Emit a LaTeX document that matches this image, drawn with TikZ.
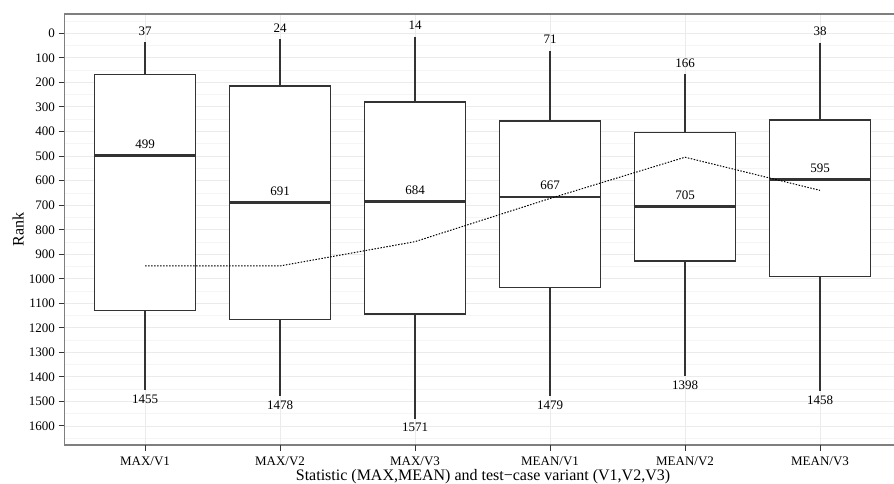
\documentclass[tikz,border=0pt]{standalone}
\usepackage{fontspec}
\setmainfont{Liberation Serif}
\definecolor{gridmaj}{HTML}{EBEBEB}
\definecolor{gridmin}{HTML}{F5F5F5}
\definecolor{boxline}{HTML}{333333}
\definecolor{panelborder}{HTML}{7F7F7F}
\tikzset{
  gmaj/.style={draw=gridmaj, line width=0.9pt},
  gmin/.style={draw=gridmin, line width=0.6pt},
  boxst/.style={draw=boxline, fill=white, line width=1.2pt},
  whisk/.style={draw=boxline, line width=1.2pt},
  medst/.style={draw=boxline, line width=2.8pt},
  ticklab/.style={font=\fontsize{13}{13}\selectfont, inner sep=0pt, text=black},
  vallab/.style={font=\fontsize{13}{13}\selectfont, inner sep=0pt, anchor=base},
  axtitle/.style={font=\fontsize{16}{16}\selectfont, inner sep=0pt, anchor=base},
  meanline/.style={draw=black, line width=1pt, dash pattern=on 1.5pt off 1.5pt},
}
\begin{document}
\begin{tikzpicture}[x=1pt,y=-1pt]
\useasboundingbox (0,0) rectangle (894,484);
\fill[white] (0,0) rectangle (894,484);
% data scope
\begin{scope}[x=1pt, y=-0.2454pt, shift={(0pt,-33.3pt)}]
  % minor grid
  \foreach \v in {-50,50,150,...,1650} \draw[gmin] (64.5,\v) -- (901,\v);
  % major grid
  \foreach \v in {0,100,...,1600} \draw[gmaj] (64.5,\v) -- (901,\v);
  \foreach \x in {145,280,415,550,685,820} \draw[gmaj] (\x,-78.6) -- (\x,1677.9);
  % boxes
  \foreach \i/\x/\lo/\qa/\me/\qc/\hi in {
      1/145/37/169/499/1128/1455,
      2/280/24/215/691/1166/1478,
      3/415/14/280/684/1144/1571,
      4/550/71/357/667/1037/1479,
      5/685/166/405/705/928/1398,
      6/820/38/353/595/992/1458}{
    \draw[whisk] (\x,\lo) -- (\x,\qa);
    \draw[whisk] (\x,\qc) -- (\x,\hi);
    \draw[boxst] (\x-50.6,\qa) rectangle (\x+50.6,\qc);
    \draw[medst] (\x-50,\me) -- (\x+50,\me);
    \node[vallab, yshift=7pt] (hi\i) at (\x,\lo) {\lo};
    \node[vallab, yshift=7pt] (me\i) at (\x,\me) {\me};
    \node[vallab, yshift=-13pt] (lo\i) at (\x,\hi) {\hi};
  }
  % mean line
  \coordinate (m1) at (145,948);
  \coordinate (m2) at (280,948);
  \coordinate (m3) at (415,849);
  \coordinate (m4) at (550,673);
  \coordinate (m5) at (685,505);
  \coordinate (m6) at (820,640);
  \draw[meanline] (m1) -- (m2) -- (m3) -- (m4) -- (m5) -- (m6);
  % y ticks
  \foreach \v in {0,100,...,1600}{
    \draw[draw=boxline, line width=1pt] (58.5,\v) -- (64.5,\v);
    \node[ticklab, anchor=base east, yshift=-4.4pt] (yt\v) at (55,\v) {\v};
  }
\end{scope}
% panel border
\draw[draw=panelborder, line width=1.1pt] (901,14) -- (64.5,14) -- (64.5,445) -- (901,445);
% x ticks
\foreach \x/\t in {145/MAX\slash V1,280/MAX\slash V2,415/MAX\slash V3,550/MEAN\slash V1,685/MEAN\slash V2,820/MEAN\slash V3}{
  \draw[draw=boxline, line width=1pt] (\x,445) -- (\x,451);
  \node[ticklab, anchor=base] (xt\x) at (\x,465) {\t};
}
\node[axtitle] (xtitle) at (483,480) {Statistic (MAX,MEAN) and test\textminus case variant (V1,V2,V3)};
\node[axtitle, rotate=90] (ytitle) at (23.5,229.5) {Rank};
\end{tikzpicture}
\end{document}
